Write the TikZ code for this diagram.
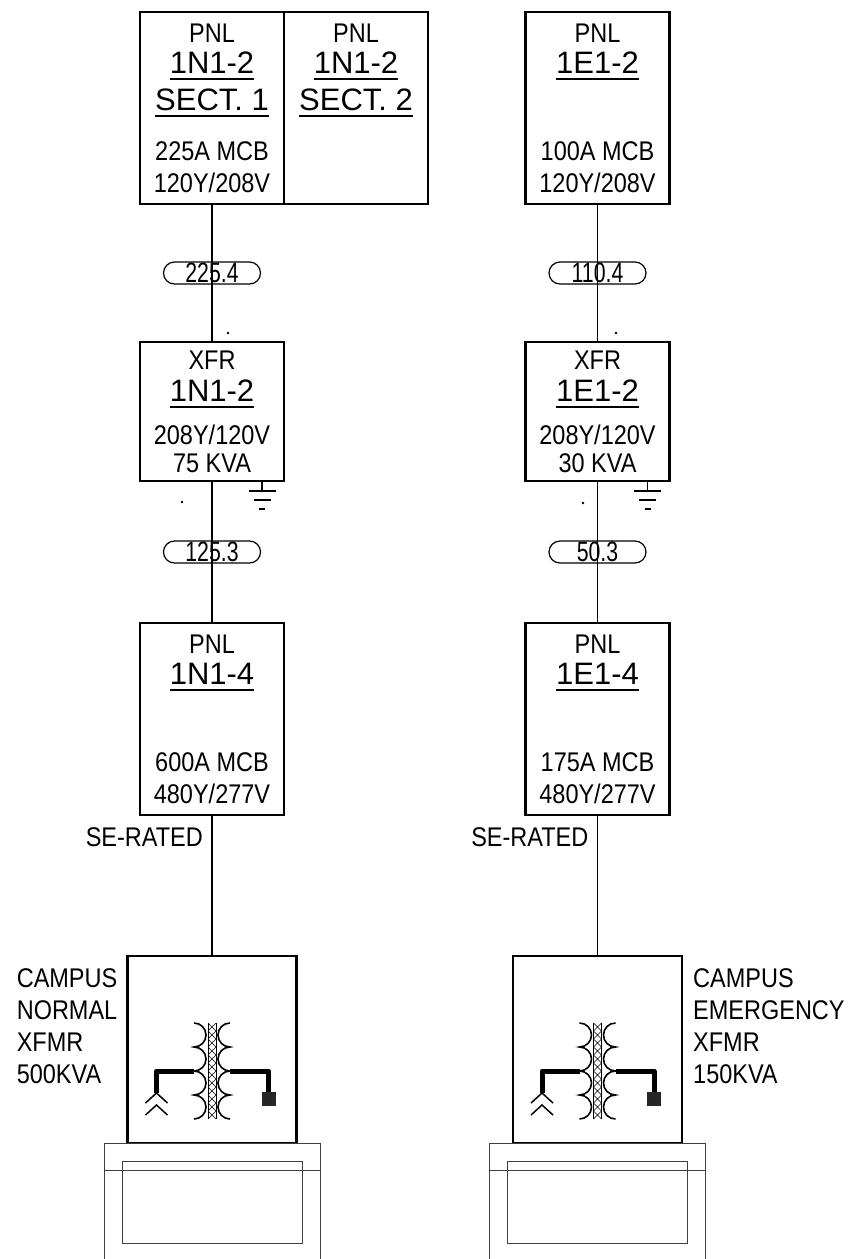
\documentclass[tikz,border=0pt]{standalone}
\usepackage{fontspec}
\setmainfont{Liberation Sans}
\newfontfamily\narrowsans[FakeStretch=0.87]{Liberation Sans}
\newfontfamily\pillsans[FakeStretch=0.76]{Liberation Sans}
\usepackage{tikz}
\usetikzlibrary{positioning}
\newcommand{\panelid}[1]{{\fontsize{31}{32}\rmfamily%
  \setbox0\hbox{#1}\rlap{\rule[-7pt]{\wd0}{2pt}}\box0}}
\tikzstyle{panel} = [ rectangle, draw = black, line width = 2.8pt, outer sep = 0pt, %
                      minimum width = 144pt, minimum height = 192pt, inner sep = 0pt, %
                      align = center, font = \fontsize{27}{32}\narrowsans ]
\tikzstyle{xfr} = [ panel, minimum height = 139pt ]
\tikzstyle{xfmrbox} = [ rectangle, draw = black, line width = 2.8pt, outer sep = 0pt, %
                        minimum width = 169pt, minimum height = 187pt ]
\tikzstyle{pill} = [ rectangle, rounded corners = 11pt, draw = black, line width = 1.2pt, %
                     minimum width = 97pt, minimum height = 22pt, inner sep = 0pt, %
                     font = \fontsize{28}{32}\pillsans ]
\tikzstyle{tag} = [ inner sep = 0pt, align = left, font = \fontsize{27}{32}\narrowsans ]
\tikzstyle{wire} = [ line width = 1.7pt ]
\tikzstyle{lead} = [ line width = 5pt, line join = round ]
\tikzstyle{gnd} = [ line width = 1.2pt ]
\tikzstyle{skid} = [ line width = 1pt, draw = black!75 ]
\begin{document}
\begin{tikzpicture}[x = 1pt, y = 1pt]
      \useasboundingbox (0,0) rectangle (849,-1259);
      % Normal side
      \node (pnl12a) [panel] at (212,-108)
        {PNL\\[-1pt]\panelid{1N1-2}\\[5pt]\panelid{SECT. 1}\\[18pt]225A MCB\\120Y/208V};
      \node (pnl12b) [panel, right = 0pt of pnl12a]
        {PNL\\[-1pt]\panelid{1N1-2}\\[5pt]\panelid{SECT. 2}\\[18pt]\phantom{225A MCB}\\\phantom{120Y/208V}};
      \node (xfr12) [xfr, below = 138pt of pnl12a]
        {XFR\\\panelid{1N1-2}\\[11pt]208Y/120V\\[-4pt]75 KVA};
      \node (pnl14) [panel, below = 142pt of xfr12]
        {PNL\\[-1pt]\panelid{1N1-4}\\[55pt]600A MCB\\480Y/277V};
      \node (xfmrN) [xfmrbox, below = 141pt of pnl14] {};
      % Emergency side
      \node (pnlE12) [panel, right = 97.5pt of pnl12b]
        {PNL\\[-1pt]\panelid{1E1-2}\\[55pt]100A MCB\\120Y/208V};
      \node (xfrE12) [xfr, below = 138pt of pnlE12]
        {XFR\\\panelid{1E1-2}\\[11pt]208Y/120V\\[-4pt]30 KVA};
      \node (pnlE14) [panel, below = 142pt of xfrE12]
        {PNL\\[-1pt]\panelid{1E1-4}\\[55pt]175A MCB\\480Y/277V};
      \node (xfmrE) [xfmrbox, below = 141pt of pnlE14] {};
      % Labels
      \node (seN) [tag, anchor = east] at ([xshift=-9pt,yshift=-22pt]pnl14.south) {SE-RATED};
      \node (seE) [tag, anchor = east] at ([xshift=-9pt,yshift=-22pt]pnlE14.south) {SE-RATED};
      \node (tagN) [tag, anchor = north east] at ([xshift=-10pt,yshift=-12pt]xfmrN.north west)
        {CAMPUS\\NORMAL\\XFMR\\500KVA};
      \node (tagE) [tag, anchor = north west] at ([xshift=11pt,yshift=-12pt]xfmrE.north east)
        {CAMPUS\\EMERGENCY\\XFMR\\150KVA};
      % Feeders
      \draw [wire] (pnl12a) -- node (f12) [pill] {225.4} (xfr12);
      \draw [wire] (xfr12) -- node (f14) [pill] {125.3} (pnl14);
      \draw [wire] (pnl14) -- (xfmrN);
      \draw [wire] (pnlE12) -- node (fE12) [pill] {110.4} (xfrE12);
      \draw [wire] (xfrE12) -- node (fE14) [pill] {50.3} (pnlE14);
      \draw [wire] (pnlE14) -- (xfmrE);
      % Dots and grounds
      \fill ([xshift=16pt,yshift=9pt]xfr12.north) circle (1.3pt);
      \fill ([xshift=-30pt,yshift=-21pt]xfr12.south) circle (1.3pt);
      \fill ([xshift=18.5pt,yshift=9pt]xfrE12.north) circle (1.3pt);
      \fill ([xshift=-14.5pt,yshift=-22pt]xfrE12.south) circle (1.3pt);
      \draw [gnd] ([xshift=-22pt]xfr12.south east) -- ++(0,-10) ++(-13.5,0) -- ++(27,0) %
        ++(-22,-9) -- ++(17,0) ++(-11.5,-9) -- ++(6,0);
      \draw [gnd] ([xshift=-22pt]xfrE12.south east) -- ++(0,-10) ++(-13.5,0) -- ++(27,0) %
        ++(-22,-9) -- ++(17,0) ++(-11.5,-9) -- ++(6,0);
      % Campus transformers
      \foreach \u in {xfmrN, xfmrE} {
        \begin{scope}[shift={(\u.center)}]
          \draw [line width=0.8pt] (-4,26.5) -- (-4,-69.5) (4,26.5) -- (4,-69.5);
          \foreach \k in {0,...,11}
            \draw [line width=0.6pt] (-4,26.5-8*\k) -- (4,18.5-8*\k) (4,26.5-8*\k) -- (-4,18.5-8*\k);
          \draw [line width=1.6pt] (-18,26.5) arc [start angle=90, end angle=-90, radius=12pt]
            arc [start angle=90, end angle=-90, radius=12pt]
            arc [start angle=90, end angle=-90, radius=12pt]
            arc [start angle=90, end angle=-90, radius=12pt];
          \draw [line width=1.6pt] (18,26.5) arc [start angle=90, end angle=270, radius=12pt]
            arc [start angle=90, end angle=270, radius=12pt]
            arc [start angle=90, end angle=270, radius=12pt]
            arc [start angle=90, end angle=270, radius=12pt];
          \draw [lead] (-18,-21.5) -| (-55.5,-43.5);
          \draw [lead] (18,-21.5) -| (56.5,-43);
          \draw [line width=1.5pt] (-66.5,-53.5) -- (-55.5,-43.5) -- (-44.5,-53.5)
            (-66.5,-65.5) -- (-55.5,-55.5) -- (-44.5,-65.5);
          \fill [black!85] (49.5,-42.5) rectangle (63.5,-56.5);
          \draw [skid] (-108,-215) -- (-108,-93.5) -- (108,-93.5) -- (108,-215)
            (-108,-120.5) -- (108,-120.5) (-90,-111.5) rectangle (90,-193.5);
        \end{scope}
      }
    \end{tikzpicture}
\end{document}
